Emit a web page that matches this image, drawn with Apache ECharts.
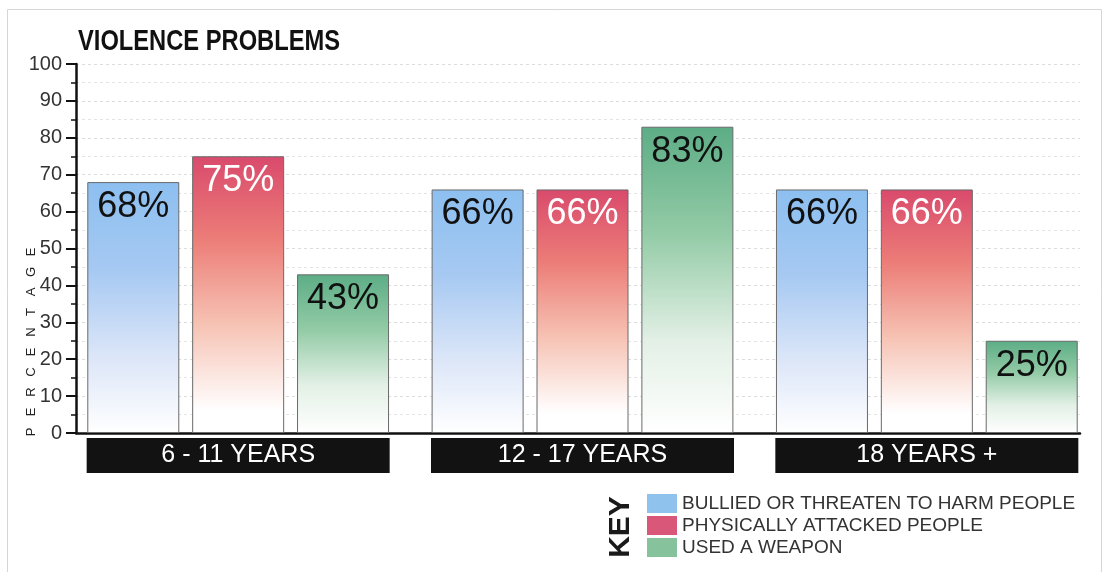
<!DOCTYPE html>
<html>
<head>
<meta charset="utf-8">
<title>Violence Problems</title>
<script src="https://cdn.jsdelivr.net/npm/echarts@6/dist/echarts.min.js"></script>
<style>
  html, body { margin: 0; padding: 0; background: #ffffff; }
  #chart { width: 1106px; height: 572px; }
</style>
</head>
<body>
<div id="chart"></div>
<script>
// Age groups along the bottom
const categories = ['6 - 11 YEARS', '12 - 17 YEARS', '18 YEARS +'];

// Percentages per age group
const bullied = [68, 66, 66];
const attacked = [75, 66, 66];
const weapon = [43, 83, 25];

const seriesNames = [
  'BULLIED OR THREATEN TO HARM PEOPLE',
  'PHYSICALLY ATTACKED PEOPLE',
  'USED A WEAPON'
];

const chartTitle = 'VIOLENCE PROBLEMS';
const yAxisTitle = 'PERCENTAGE';

const FONT = '"Liberation Sans", Arial, sans-serif';

function fade(stops) {
  return new echarts.graphic.LinearGradient(0, 0, 0, 1,
    stops.map(s => ({ offset: s[0], color: s[1] })));
}

const fills = [
  fade([[0, '#8cbff0'], [0.35, '#a6c9f2'], [0.7, '#dce6f8'], [1, '#ffffff']]),
  fade([[0, '#d94a6c'], [0.3, '#ec7d78'], [0.6, '#f6c1b2'], [0.92, '#ffffff'], [1, '#ffffff']]),
  fade([[0, '#5cad86'], [0.35, '#93cba6'], [0.7, '#e3f0e6'], [1, '#ffffff']])
];
const keyColors = ['#90c2ee', '#d9587a', '#86c29c'];
const labelColors = ['#111111', '#ffffff', '#111111'];
const seriesData = [bullied, attacked, weapon];

const chart = echarts.init(document.getElementById('chart'), null, { renderer: 'canvas' });

const graphics = [
  {
    type: 'rect',
    shape: { x: 7.5, y: 9.5, width: 1094, height: 570 },
    style: { fill: 'none', stroke: '#d6d6d6', lineWidth: 1 },
    silent: true
  },
  // condensed bold heading
  {
    type: 'text',
    x: 78, y: 42,
    scaleX: 0.79,
    style: {
      text: chartTitle, font: 'bold 30px ' + FONT, fill: '#111',
      align: 'left', verticalAlign: 'middle'
    }
  },
  {
    type: 'text',
    x: 621, y: 527,
    rotation: Math.PI / 2,
    style: {
      text: 'KEY', font: 'bold 30px ' + FONT, fill: '#1a1a1a',
      align: 'center', verticalAlign: 'middle'
    }
  }
];
// vertical, widely spaced axis title
yAxisTitle.split('').forEach((ch, i) => {
  graphics.push({
    type: 'text',
    x: 31, y: 432 - i * 20,
    rotation: Math.PI / 2,
    style: {
      text: ch, font: '13px ' + FONT, fill: '#222',
      align: 'center', verticalAlign: 'middle'
    }
  });
});

const option = {
  backgroundColor: '#ffffff',
  animation: false,
  legend: {
    orient: 'vertical',
    left: 647, top: 494,
    padding: 0,
    itemWidth: 30, itemHeight: 19, itemGap: 3,
    icon: 'rect',
    textStyle: { fontFamily: FONT, fontSize: 19, color: '#333' },
    data: seriesNames.map((n, i) => ({ name: n, itemStyle: { color: keyColors[i], borderWidth: 0 } }))
  },
  grid: [
    // bars
    { left: 66, right: 7, top: 64, bottom: 139 },
    // axis frame
    { left: 76, right: 26, top: 64, bottom: 139 }
  ],
  xAxis: [
    {
      type: 'category', gridIndex: 0, data: categories,
      axisLine: { show: false }, axisTick: { show: false },
      axisLabel: {
        margin: 5,
        formatter: v => '{box|' + v + '}',
        rich: {
          box: {
            backgroundColor: '#121212', color: '#ffffff',
            width: 303, height: 35, align: 'center', verticalAlign: 'middle',
            fontFamily: FONT, fontSize: 25, lineHeight: 35
          }
        }
      }
    },
    {
      type: 'value', gridIndex: 1, min: 0, max: 1,
      axisLine: { show: true, onZero: false, lineStyle: { color: '#111', width: 2.5 } },
      axisTick: { show: false }, axisLabel: { show: false }, splitLine: { show: false }
    }
  ],
  yAxis: [
    { type: 'value', gridIndex: 0, min: 0, max: 100, show: false },
    {
      type: 'value', gridIndex: 1, min: 0, max: 100, interval: 10,
      axisLine: { show: true, lineStyle: { color: '#111', width: 2.5 } },
      axisTick: { show: true, length: 10, lineStyle: { color: '#111', width: 2 } },
      minorTick: { show: true, splitNumber: 2, length: 5, lineStyle: { color: '#111', width: 1.5 } },
      axisLabel: { fontFamily: FONT, fontSize: 20, color: '#333', margin: 14 },
      splitLine: { show: true, lineStyle: { color: '#dcdcdc', type: [3, 3], width: 1 } },
      minorSplitLine: { show: true, lineStyle: { color: '#e4e4e4', type: [3, 3], width: 1 } }
    }
  ],
  series: seriesNames.map((name, i) => ({
    name: name,
    type: 'bar',
    xAxisIndex: 0, yAxisIndex: 0,
    data: seriesData[i],
    barWidth: 92,
    barGap: '14%',
    itemStyle: { color: fills[i], borderColor: '#6a6a6a', borderWidth: 1 },
    label: {
      show: true, position: 'insideTop', distance: 7,
      formatter: '{c}%',
      fontFamily: FONT, fontSize: 36, color: labelColors[i]
    },
    emphasis: { disabled: true }
  })),
  graphic: graphics
};

chart.setOption(option);
</script>
</body>
</html>
